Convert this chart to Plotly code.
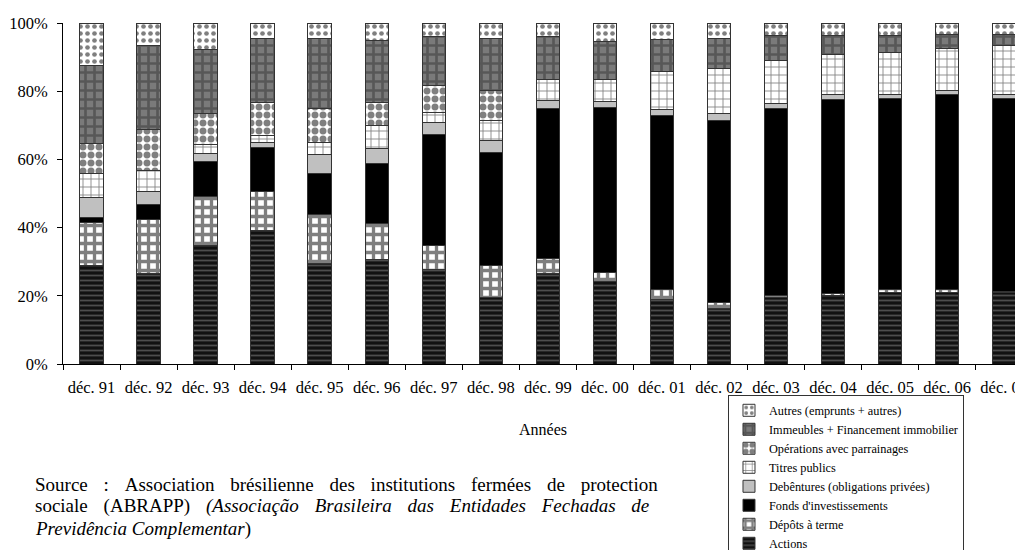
import plotly.graph_objects as go

years = ["déc. 91", "déc. 92", "déc. 93", "déc. 94", "déc. 95", "déc. 96",
         "déc. 97", "déc. 98", "déc. 99", "déc. 00", "déc. 01", "déc. 02",
         "déc. 03", "déc. 04", "déc. 05", "déc. 06", "déc. 07"]

# parts of the portfolio, % of total (bottom to top)
actions = [28.9, 26.5, 34.8, 39.2, 29.6, 30.6, 27.7, 19.5, 26.5, 24.1, 18.9, 16.3, 19.5, 20.2, 21.0, 21.1, 20.9]
depots = [12.7, 15.8, 14.3, 11.4, 14.3, 10.5, 7.1, 9.4, 4.4, 2.6, 2.9, 1.7, 0.5, 0.5, 0.8, 0.7, 0.4]
fonds = [1.5, 4.5, 10.4, 12.8, 12.1, 17.6, 32.5, 33.2, 43.9, 48.4, 51.0, 53.5, 55.0, 57.0, 56.2, 57.3, 56.7]
debentures = [5.6, 3.9, 2.1, 1.6, 5.4, 4.6, 3.6, 3.4, 2.4, 1.9, 1.8, 2.0, 1.5, 1.2, 1.1, 1.2, 0.9]
titres = [7.1, 6.0, 2.9, 2.0, 3.6, 6.6, 2.9, 5.8, 6.3, 6.5, 11.2, 13.1, 12.6, 11.9, 12.2, 12.3, 14.6]
operations = [9.0, 12.2, 9.0, 9.7, 10.0, 6.8, 7.8, 9.0, 0, 0, 0, 0, 0, 0, 0, 0, 0]
immeubles = [22.8, 24.6, 18.8, 18.7, 20.4, 18.3, 14.4, 15.2, 12.4, 11.2, 9.4, 8.8, 7.1, 5.6, 5.1, 3.9, 3.0]
autres = [12.4, 6.5, 7.7, 4.6, 4.6, 5.0, 4.0, 4.5, 4.1, 5.3, 4.8, 4.6, 3.8, 3.6, 3.6, 3.5, 3.5]

series = [
    ("Actions", actions, dict(shape="-", fgcolor="#8a8a8a", bgcolor="#111111", size=5, solidity=0.35)),
    ("Dépôts à terme", depots, dict(shape="+", fgcolor="#000000", bgcolor="#ffffff", size=9, solidity=0.6)),
    ("Fonds d'investissements", fonds, None),
    ("Debêntures (obligations privées)", debentures, None),
    ("Titres publics", titres, dict(shape="+", fgcolor="#000000", bgcolor="#ffffff", size=8, solidity=0.2)),
    ("Opérations avec parrainages", operations, dict(shape=".", fgcolor="#000000", bgcolor="#ffffff", size=8, solidity=0.6)),
    ("Immeubles + Financement immobilier", immeubles, dict(shape="+", fgcolor="#333333", bgcolor="#7a7a7a", size=9, solidity=0.5)),
    ("Autres (emprunts + autres)", autres, dict(shape=".", fgcolor="#000000", bgcolor="#ffffff", size=7, solidity=0.35)),
]
solid = {"Fonds d'investissements": "#000000", "Debêntures (obligations privées)": "#c0c0c0"}

serif = "Liberation Serif"
sp = " \u00a0\u00a0\u200a"  # justified text in the source note

fig = go.Figure()
for name, vals, pat in series:
    marker = dict(line=dict(color="#333333", width=1))
    if pat:
        marker["color"] = pat["bgcolor"]
        marker["pattern"] = pat
    else:
        marker["color"] = solid[name]
    fig.add_trace(go.Bar(x=years, y=vals, name=name, marker=marker))

source_lines = [
    sp.join(["Source", ":", "Association", "brésilienne", "des", "institutions", "fermées", "de", "protection"]),
    sp.join(["sociale", "(ABRAPP)", "<i>(Associação", "Brasileira", "das", "Entidades", "Fechadas", "de</i>"]),
    "<i>Previdência Complementar</i>)",
]
source_y = [-0.352, -0.416, -0.484]

# page body has an 8px margin, so the figure is 8px smaller than the window
fig.update_layout(
    barmode="stack",
    bargap=0.59,
    width=1015,
    height=542,
    margin=dict(l=55, r=0, t=14.5, b=186, autoexpand=False),
    paper_bgcolor="white",
    plot_bgcolor="white",
    font=dict(family=serif, size=16, color="#000000"),
    showlegend=True,
    legend=dict(
        x=0.6927, y=-0.0903, xanchor="left", yanchor="top",
        traceorder="reversed",
        bordercolor="#333333", borderwidth=1,
        font=dict(family=serif, size=12.3),
        itemwidth=30,
    ),
    xaxis=dict(
        range=[-0.5, 16.33],
        showline=True, linecolor="#000000", linewidth=1,
        ticks="outside", tickson="boundaries", ticklen=5, tickcolor="#000000",
        tickfont=dict(size=16.5),
        ticklabelstandoff=8,
        title=dict(text="Années", font=dict(size=16), standoff=28),
    ),
    yaxis=dict(
        range=[0, 100],
        dtick=20,
        ticksuffix="%",
        showline=True, linecolor="#000000", linewidth=1,
        ticks="outside", ticklen=5, tickcolor="#000000",
        showgrid=False, zeroline=False,
        tickfont=dict(size=16.5),
        ticklabelstandoff=6,
    ),
    annotations=[
        dict(
            xref="paper", yref="paper", x=-0.0316, y=yy, xanchor="left", yanchor="middle",
            align="left", showarrow=False,
            font=dict(family=serif, size=19),
            text=line,
        )
        for line, yy in zip(source_lines, source_y)
    ],
)

fig.write_html("out.html")
